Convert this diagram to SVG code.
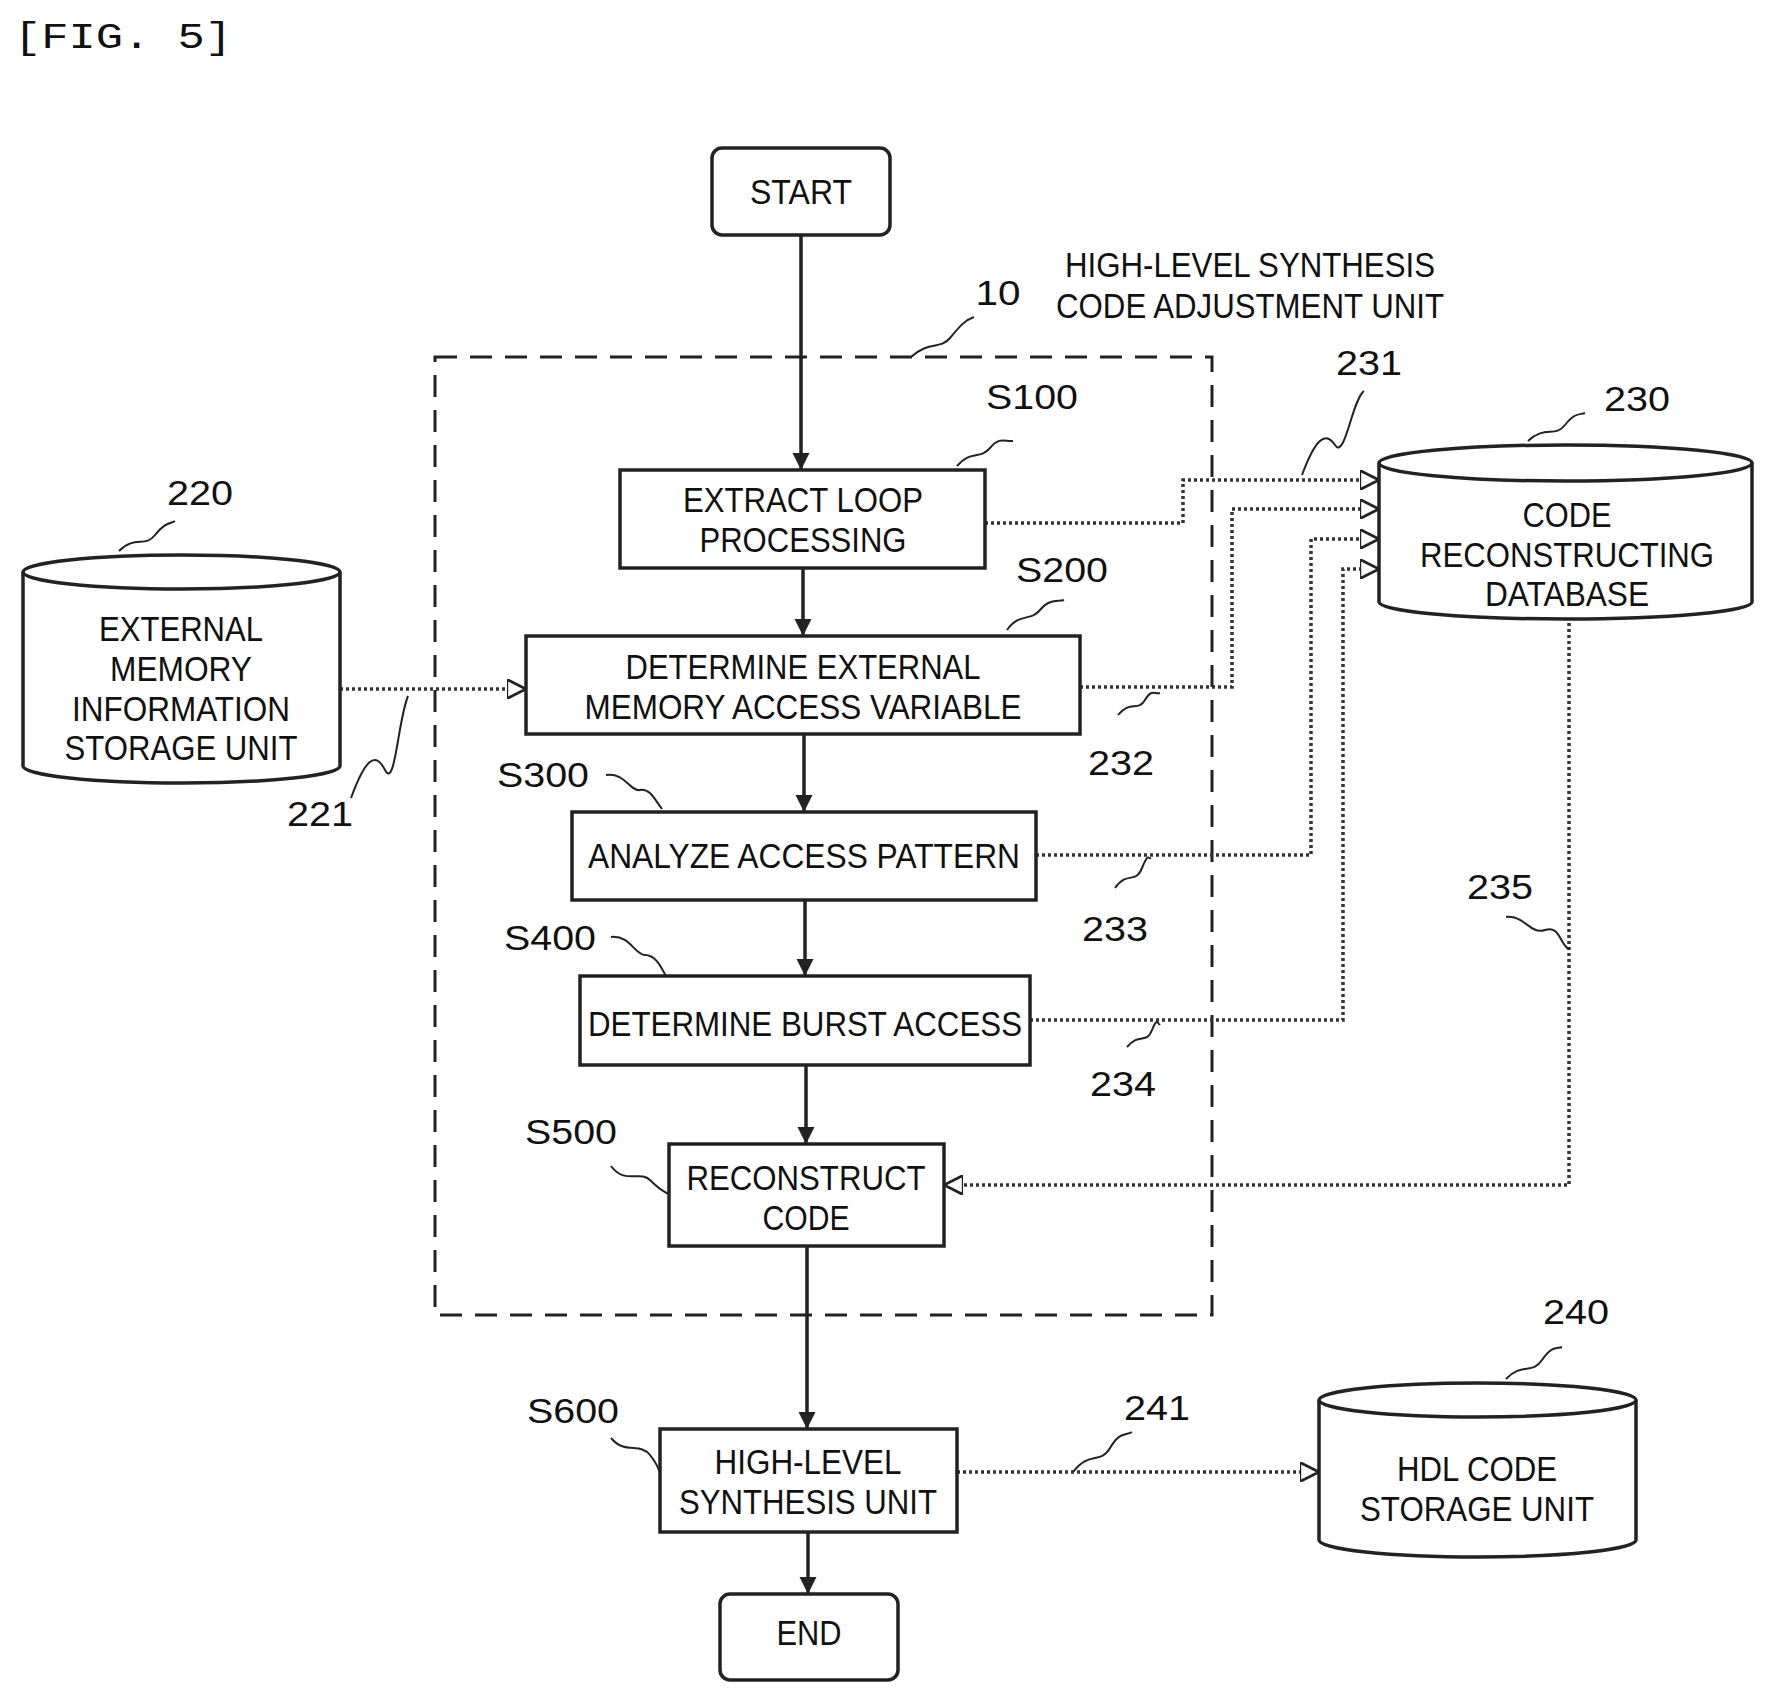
<svg xmlns="http://www.w3.org/2000/svg" width="1766" height="1695" viewBox="0 0 1766 1695">
<style>
text{font-family:"Liberation Sans",Arial,sans-serif;font-size:35px;fill:#111;text-anchor:middle}
.box{fill:#fff;stroke:#222;stroke-width:3.5}
.db{fill:#fff;stroke:#222;stroke-width:3.5}
.main{stroke:#222;stroke-width:3.5;fill:none}
.dot{stroke:#333;stroke-width:3.5;fill:none;stroke-dasharray:3 3}
.sq{stroke:#222;stroke-width:2;fill:none}
.fig{font-family:"Liberation Mono",monospace;font-size:36px;text-anchor:start}
</style>
<defs>
<marker id="a" viewBox="0 0 10 10" refX="10" refY="5" markerWidth="5" markerHeight="5" orient="auto"><path d="M0,0L10,5L0,10z" fill="#222"/></marker>
<marker id="o" viewBox="0 0 10 10" refX="10" refY="5" markerWidth="5.5" markerHeight="5.5" orient="auto"><path d="M0,0L10,5L0,10z" fill="#fff" stroke="#222" stroke-width="1.5"/></marker>
</defs>
<rect width="1766" height="1695" fill="#fff"/>
<text class="fig" x="14" y="48" textLength="218" lengthAdjust="spacingAndGlyphs">[FIG. 5]</text>

<g id="unit10">
<rect x="435" y="357" width="777" height="958" fill="none" stroke="#222" stroke-width="3" stroke-dasharray="22 13"/>
<text x="1250" y="277" textLength="370" lengthAdjust="spacingAndGlyphs">HIGH-LEVEL SYNTHESIS</text>
<text x="1250" y="318" textLength="388" lengthAdjust="spacingAndGlyphs">CODE ADJUSTMENT UNIT</text>
<text x="998" y="305" textLength="45" lengthAdjust="spacingAndGlyphs">10</text>
<path class="sq" d="M911,357 C930,340 940,350 950,338 S965,320 974,317"/>
</g>

<g id="connectors">
<path class="main" d="M801,235V470" marker-end="url(#a)"/>
<path class="main" d="M803,568V636" marker-end="url(#a)"/>
<path class="main" d="M804,734V812" marker-end="url(#a)"/>
<path class="main" d="M805,900V976" marker-end="url(#a)"/>
<path class="main" d="M806,1065V1144" marker-end="url(#a)"/>
<path class="main" d="M807,1246V1429" marker-end="url(#a)"/>
<path class="main" d="M808,1532V1594" marker-end="url(#a)"/>
<path class="dot" d="M340,689H526" marker-end="url(#o)"/>
<path class="dot" d="M985,523H1183V480H1379" marker-end="url(#o)"/>
<path class="dot" d="M1080,687H1232V509H1379" marker-end="url(#o)"/>
<path class="dot" d="M1036,855H1311V539H1379" marker-end="url(#o)"/>
<path class="dot" d="M1030,1020H1343V569H1379" marker-end="url(#o)"/>
<path class="dot" d="M1569,617V1185H944" marker-end="url(#o)"/>
<path class="dot" d="M957,1472H1319" marker-end="url(#o)"/>
<path class="sq" d="M351,798 C365,760 375,750 385,770 S398,720 408,696"/>
<text x="320" y="826" textLength="66" lengthAdjust="spacingAndGlyphs">221</text>
<path class="sq" d="M1302,475 C1315,440 1325,430 1335,445 S1352,400 1364,391"/>
<text x="1369" y="375" textLength="66" lengthAdjust="spacingAndGlyphs">231</text>
<path class="sq" d="M1118,715 C1130,700 1138,712 1145,700 S1155,695 1160,693"/>
<text x="1121" y="775" textLength="66" lengthAdjust="spacingAndGlyphs">232</text>
<path class="sq" d="M1115,888 C1128,870 1135,885 1142,868 S1148,860 1151,858"/>
<text x="1115" y="941" textLength="66" lengthAdjust="spacingAndGlyphs">233</text>
<path class="sq" d="M1127,1047 C1140,1032 1146,1045 1152,1030 S1158,1026 1160,1024"/>
<text x="1123" y="1096" textLength="66" lengthAdjust="spacingAndGlyphs">234</text>
<path class="sq" d="M1506,917 C1525,915 1530,935 1545,930 S1560,945 1569,949"/>
<text x="1500" y="899" textLength="66" lengthAdjust="spacingAndGlyphs">235</text>
<path class="sq" d="M1073,1472 C1090,1450 1100,1465 1110,1448 S1125,1436 1132,1432"/>
<text x="1157" y="1420" textLength="66" lengthAdjust="spacingAndGlyphs">241</text>
</g>

<g id="start"><rect class="box" x="712" y="148" width="178" height="87" rx="10"/><text x="801" y="204" textLength="102" lengthAdjust="spacingAndGlyphs">START</text></g>

<g id="s100"><rect class="box" x="620" y="470" width="365" height="98"/>
<text x="803" y="512" textLength="240" lengthAdjust="spacingAndGlyphs">EXTRACT LOOP</text>
<text x="803" y="552" textLength="207" lengthAdjust="spacingAndGlyphs">PROCESSING</text>
<text x="1032" y="409" textLength="92" lengthAdjust="spacingAndGlyphs">S100</text>
<path class="sq" d="M957,466 C970,450 980,460 990,448 S1005,442 1013,441"/></g>

<g id="s200"><rect class="box" x="526" y="636" width="554" height="98"/>
<text x="803" y="679" textLength="355" lengthAdjust="spacingAndGlyphs">DETERMINE EXTERNAL</text>
<text x="803" y="719" textLength="437" lengthAdjust="spacingAndGlyphs">MEMORY ACCESS VARIABLE</text>
<text x="1062" y="582" textLength="92" lengthAdjust="spacingAndGlyphs">S200</text>
<path class="sq" d="M1007,630 C1020,612 1030,622 1040,610 S1058,602 1064,600"/></g>

<g id="s300"><rect class="box" x="572" y="812" width="464" height="88"/>
<text x="804" y="868" textLength="432" lengthAdjust="spacingAndGlyphs">ANALYZE ACCESS PATTERN</text>
<text x="543" y="787" textLength="92" lengthAdjust="spacingAndGlyphs">S300</text>
<path class="sq" d="M606,775 C625,772 630,792 640,790 S655,800 662,809"/></g>

<g id="s400"><rect class="box" x="580" y="976" width="450" height="89"/>
<text x="805" y="1036" textLength="434" lengthAdjust="spacingAndGlyphs">DETERMINE BURST ACCESS</text>
<text x="550" y="950" textLength="92" lengthAdjust="spacingAndGlyphs">S400</text>
<path class="sq" d="M611,937 C630,935 635,955 645,955 S660,965 666,976"/></g>

<g id="s500"><rect class="box" x="669" y="1144" width="275" height="102"/>
<text x="806" y="1190" textLength="239" lengthAdjust="spacingAndGlyphs">RECONSTRUCT</text>
<text x="806" y="1230" textLength="87" lengthAdjust="spacingAndGlyphs">CODE</text>
<text x="571" y="1144" textLength="92" lengthAdjust="spacingAndGlyphs">S500</text>
<path class="sq" d="M611,1166 C625,1185 640,1170 650,1180 S662,1190 668,1194"/></g>

<g id="s600"><rect class="box" x="660" y="1429" width="297" height="103"/>
<text x="808" y="1474" textLength="187" lengthAdjust="spacingAndGlyphs">HIGH-LEVEL</text>
<text x="808" y="1514" textLength="258" lengthAdjust="spacingAndGlyphs">SYNTHESIS UNIT</text>
<text x="573" y="1423" textLength="92" lengthAdjust="spacingAndGlyphs">S600</text>
<path class="sq" d="M611,1438 C625,1455 640,1442 650,1455 S657,1468 660,1472"/></g>

<g id="end"><rect class="box" x="720" y="1594" width="178" height="86" rx="10"/><text x="809" y="1645" textLength="65" lengthAdjust="spacingAndGlyphs">END</text></g>

<g id="db220">
<path class="db" d="M23,572V766A158.5,17 0 0 0 340,766V572"/>
<ellipse class="db" cx="181.5" cy="572" rx="158.5" ry="17"/>
<text x="181" y="641" textLength="164" lengthAdjust="spacingAndGlyphs">EXTERNAL</text>
<text x="181" y="681" textLength="142" lengthAdjust="spacingAndGlyphs">MEMORY</text>
<text x="181" y="721" textLength="218" lengthAdjust="spacingAndGlyphs">INFORMATION</text>
<text x="181" y="760" textLength="233" lengthAdjust="spacingAndGlyphs">STORAGE UNIT</text>
<text x="200" y="505" textLength="66" lengthAdjust="spacingAndGlyphs">220</text>
<path class="sq" d="M119,551 C135,535 145,548 155,535 S170,524 175,521"/>
</g>

<g id="db230">
<path class="db" d="M1379,463V602A186.5,17 0 0 0 1752,602V463"/>
<ellipse class="db" cx="1565.5" cy="463" rx="186.5" ry="18"/>
<text x="1567" y="527" textLength="89" lengthAdjust="spacingAndGlyphs">CODE</text>
<text x="1567" y="567" textLength="294" lengthAdjust="spacingAndGlyphs">RECONSTRUCTING</text>
<text x="1567" y="606" textLength="164" lengthAdjust="spacingAndGlyphs">DATABASE</text>
<text x="1637" y="411" textLength="66" lengthAdjust="spacingAndGlyphs">230</text>
<path class="sq" d="M1528,441 C1545,425 1555,438 1565,425 S1580,415 1585,413"/>
</g>

<g id="db240">
<path class="db" d="M1319,1400V1540A158.5,17 0 0 0 1636,1540V1400"/>
<ellipse class="db" cx="1477.5" cy="1400" rx="158.5" ry="17"/>
<text x="1477" y="1481" textLength="160" lengthAdjust="spacingAndGlyphs">HDL CODE</text>
<text x="1477" y="1521" textLength="234" lengthAdjust="spacingAndGlyphs">STORAGE UNIT</text>
<text x="1576" y="1324" textLength="66" lengthAdjust="spacingAndGlyphs">240</text>
<path class="sq" d="M1506,1379 C1522,1362 1532,1375 1542,1360 S1557,1349 1562,1347"/>
</g>
</svg>
